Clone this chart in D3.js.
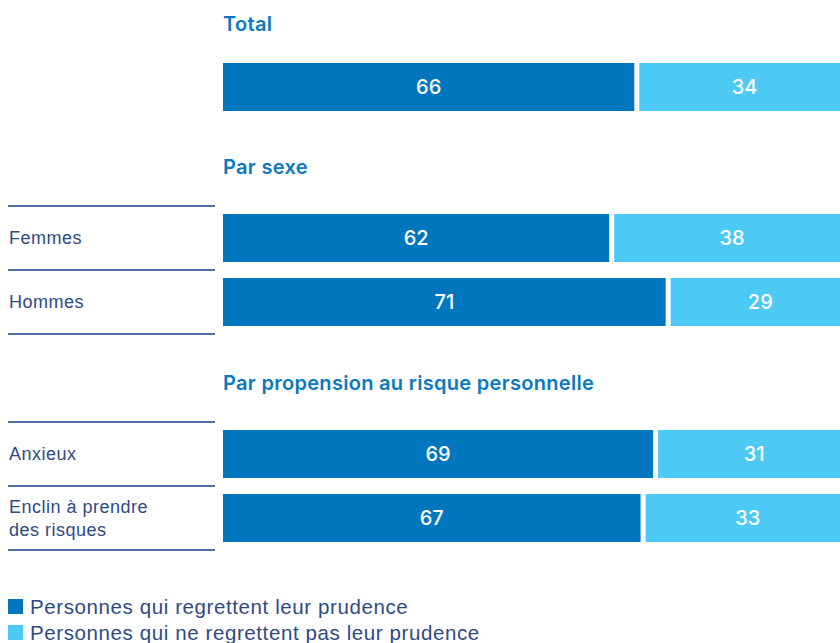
<!DOCTYPE html>
<html>
<head>
<meta charset="utf-8">
<script src="https://cdn.jsdelivr.net/npm/d3@7"></script>
<style>
  body { margin: 0; background: #fff; }
  svg { display: block; font-family: "Inter", "Liberation Sans", sans-serif; }
</style>
</head>
<body>
<svg id="chart" width="840" height="643"></svg>
<script>
const sections = ['Total', 'Par sexe', 'Par propension au risque personnelle']
const rowSection = [0, 1, 1, 2, 2]
const rowLabels = ['', 'Femmes', 'Hommes', 'Anxieux', 'Enclin à prendre\ndes risques']
const regret = [66, 62, 71, 69, 67]
const noRegret = [34, 38, 29, 31, 33]
const legendLabels = ['Personnes qui regrettent leur prudence', 'Personnes qui ne regrettent pas leur prudence']

const DARK = '#0076be'
const LIGHT = '#4cc9f4'
const NAVY = '#1f3c88'

const svg = d3.select('#chart')

const x = d3.scaleLinear().domain([0, 100]).range([223, 850])
const rowY = [63, 214, 278, 430, 494]
const titleY = [31, 174, 390]
const barH = 48
const gap = 2.5

// Section titles
svg.selectAll('.title')
  .data(sections)
  .enter()
  .append('text')
  .attr('class', 'title')
  .attr('x', 223)
  .attr('y', (d, i) => titleY[i])
  .attr('font-size', 20)
  .attr('font-weight', 600)
  .attr('letter-spacing', 0.3)
  .attr('fill', '#0a78c2')
  .text(d => d)

const rows = svg.selectAll('.row')
  .data(regret.map((v, i) => ({ i, regret: v, noRegret: noRegret[i], label: rowLabels[i], sec: rowSection[i] })))
  .enter()
  .append('g')
  .attr('class', 'row')

rows.append('rect')
  .attr('x', x(0))
  .attr('y', d => rowY[d.i])
  .attr('width', d => x(d.regret) - x(0) - gap)
  .attr('height', barH)
  .attr('fill', DARK)

rows.append('rect')
  .attr('x', d => x(d.regret) + gap)
  .attr('y', d => rowY[d.i])
  .attr('width', d => x(100) - x(d.regret) - gap)
  .attr('height', barH)
  .attr('fill', LIGHT)

rows.append('text')
  .attr('x', d => (x(0) + x(d.regret) - gap) / 2)
  .attr('y', d => rowY[d.i] + barH / 2 + 7)
  .attr('text-anchor', 'middle')
  .attr('font-size', 20)
  .attr('font-weight', 500)
  .attr('fill', '#fff')
  .text(d => d.regret)

rows.append('text')
  .attr('x', d => (x(d.regret) + gap + x(100)) / 2)
  .attr('y', d => rowY[d.i] + barH / 2 + 7)
  .attr('text-anchor', 'middle')
  .attr('font-size', 20)
  .attr('font-weight', 500)
  .attr('fill', '#fff')
  .text(d => d.noRegret)

// Row labels with separator lines (not for Total)
const labelled = rows.filter(d => d.label !== '')

labelled.append('line')
  .attr('x1', 8).attr('x2', 215)
  .attr('y1', d => rowY[d.i] - 8).attr('y2', d => rowY[d.i] - 8)
  .attr('stroke', NAVY)
  .attr('stroke-width', 1.5)

// bottom line after the last row of each section
labelled.filter(d => d.i === rowLabels.length - 1 || rowSection[d.i + 1] !== d.sec)
  .append('line')
  .attr('x1', 8).attr('x2', 215)
  .attr('y1', d => rowY[d.i] + barH + 8).attr('y2', d => rowY[d.i] + barH + 8)
  .attr('stroke', NAVY)
  .attr('stroke-width', 1.5)

labelled.each(function (d) {
  const lines = d.label.split('\n')
  const t = d3.select(this).append('text')
    .attr('font-family', '"Liberation Sans", sans-serif')
    .attr('font-size', 18)
    .attr('letter-spacing', 0.5)
    .attr('fill', '#2e4a86')
  const lh = 23
  const y0 = rowY[d.i] + barH / 2 + 6 - (lines.length - 1) * lh / 2
  lines.forEach((l, k) => {
    t.append('tspan').attr('x', 9).attr('y', y0 + k * lh).text(l)
  })
})

// Legend
const legend = svg.selectAll('.legend')
  .data(legendLabels)
  .enter()
  .append('g')
  .attr('class', 'legend')
  .attr('transform', (d, i) => `translate(8, ${599 + i * 26})`)

legend.append('rect')
  .attr('width', 15).attr('height', 15)
  .attr('fill', (d, i) => i === 0 ? DARK : LIGHT)

legend.append('text')
  .attr('x', 22)
  .attr('y', 15)
  .attr('font-family', '"Liberation Sans", sans-serif')
  .attr('font-size', 20.5)
  .attr('letter-spacing', 0.6)
  .attr('fill', '#2e4a86')
  .text(d => d)
</script>
</body>
</html>
